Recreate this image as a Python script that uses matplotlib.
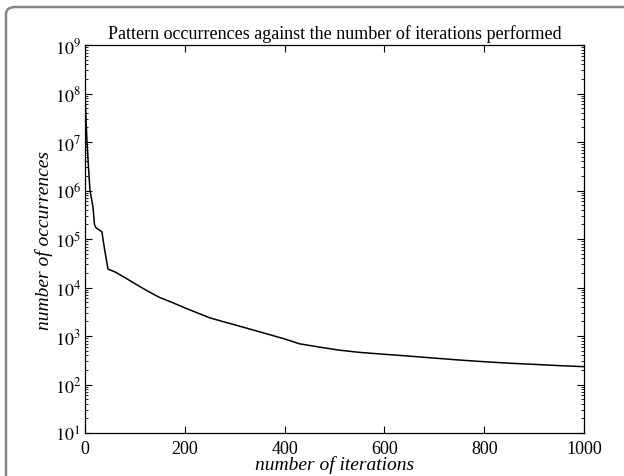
import matplotlib
matplotlib.use("Agg")
import matplotlib.pyplot as plt
from matplotlib.patches import FancyBboxPatch
from matplotlib.ticker import LogLocator, FixedLocator

iterations = [0, 2, 4, 7, 10, 14, 16, 19, 22, 28, 34, 36, 40, 46, 60, 80, 100,
              125, 150, 175, 200, 225, 250, 275, 300, 350, 400, 430, 470, 510, 550,
              600, 650, 700, 750, 800, 850, 900, 950, 1000]
occurrences = [1.0e8, 3e7, 1e7, 3e6, 1.0e6, 6e5, 4.5e5, 2.0e5, 1.7e5, 1.55e5, 1.4e5, 1.0e5,
               5.5e4, 2.4e4, 2.1e4, 1.6e4, 1.2e4, 8.5e3, 6.2e3, 4.9e3, 3.8e3, 3.0e3,
               2.37e3, 2.0e3, 1.7e3, 1.22e3, 8.7e2, 6.9e2, 5.9e2, 5.1e2, 4.6e2,
               4.2e2, 3.85e2, 3.5e2, 3.2e2, 2.95e2, 2.75e2, 2.6e2, 2.45e2, 2.33e2]
x_ticks = [0, 200, 400, 600, 800, 1000]
y_ticks = [10.0 ** k for k in range(1, 10)]
y_tick_labels = [r"$10^{%d}$" % k for k in range(1, 10)]

title = "Pattern occurrences against the number of iterations performed"
xlabel = "number of iterations"
ylabel = "number of occurrences"

plt.rcParams["font.family"] = ["Liberation Serif", "DejaVu Serif"]
plt.rcParams["mathtext.fontset"] = "stix"

fig = plt.figure(figsize=(6.24, 4.77), dpi=100)
ax = fig.add_axes([85 / 624, (477 - 434) / 477, (584 - 85) / 624, (434 - 46) / 477])

ax.plot(iterations, occurrences, color="black", linewidth=1.1)
ax.set_yscale("log")
ax.set_xlim(0, 1000)
ax.set_ylim(1e1, 1e9)
ax.xaxis.set_major_locator(FixedLocator(x_ticks))
ax.set_yticks(y_ticks)
ax.set_yticklabels(y_tick_labels)
ax.yaxis.set_minor_locator(LogLocator(base=10, subs=range(2, 10), numticks=20))
ax.tick_params(which="both", direction="in", top=True, right=True, labelsize=13)
ax.tick_params(axis="x", pad=5)
ax.tick_params(axis="y", pad=3)
ax.tick_params(which="major", length=5, width=0.8)
ax.tick_params(which="minor", length=2.5, width=0.6)
for s in ax.spines.values():
    s.set_linewidth(0.9)

ax.set_title(title, fontsize=13, pad=5)
ax.set_xlabel(xlabel, fontsize=14, style="italic", labelpad=-1)
ax.set_ylabel(ylabel, fontsize=14, style="italic", labelpad=1)

frame = FancyBboxPatch((6 / 624, -0.05), 1.2, (477 - 8) / 477 + 0.05,
                       boxstyle="round,pad=0,rounding_size=0.015",
                       transform=fig.transFigure, facecolor="none",
                       edgecolor="#858585", linewidth=1.8, clip_on=False)
fig.patches.append(frame)

fig.savefig("out.png", dpi=100)
